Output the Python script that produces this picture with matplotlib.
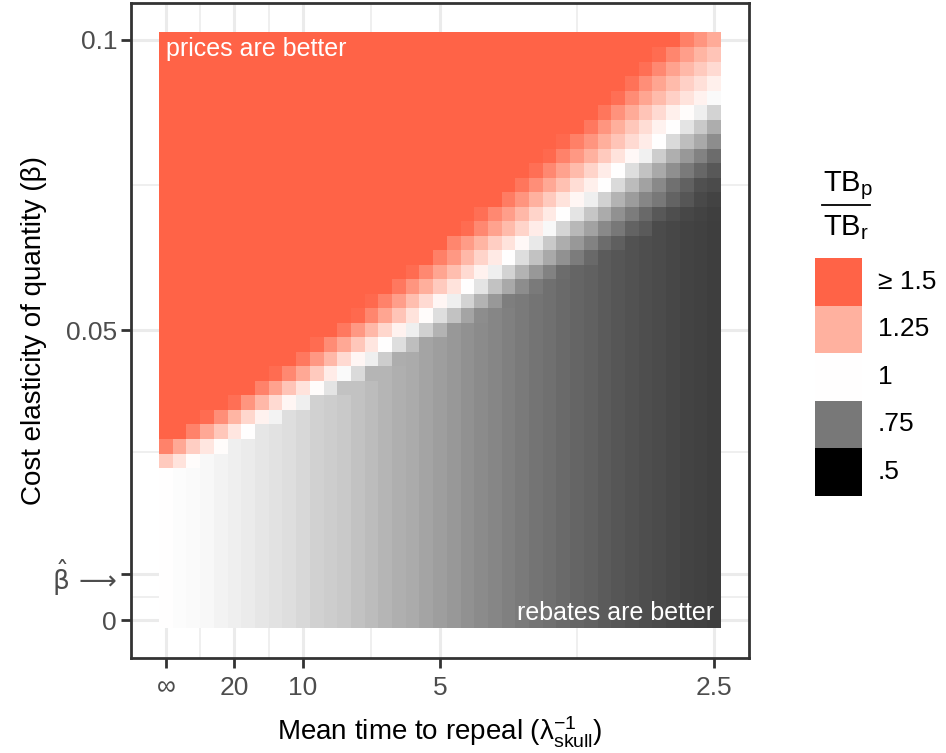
import numpy as np
import matplotlib
matplotlib.use("Agg")
import matplotlib.pyplot as plt
from matplotlib.colors import LinearSegmentedColormap, Normalize
from matplotlib.patches import Rectangle
from matplotlib.lines import Line2D

plt.rcParams["font.family"] = ["Liberation Sans", "DejaVu Sans"]
plt.rcParams["mathtext.default"] = "regular"

# grid of the heatmap: repeal hazard (x) and cost elasticity (y)
lam = np.round(np.arange(41) * 0.01, 2)
beta = np.round(np.arange(41) * 0.0025, 4)

x_ticks = [0, 0.05, 0.1, 0.2, 0.4]
x_labels = ["∞", "20", "10", "5", "2.5"]
x_minor = [0.025, 0.075, 0.15, 0.3]
y_ticks = [0, 0.008, 0.05, 0.1]
y_labels = ["0", r"$\hat{\beta}\,\longrightarrow$", "0.05", "0.1"]
y_minor = [0.004, 0.029, 0.075]

# TB_p / TB_r in the low-beta region, one value per column
base_ratio = [1.000, 0.996, 0.991, 0.985, 0.978, 0.972, 0.963, 0.954, 0.947, 0.938,
              0.928, 0.917, 0.908, 0.899, 0.888, 0.877, 0.866, 0.855, 0.844, 0.833,
              0.822, 0.811, 0.800, 0.789, 0.778, 0.767, 0.757, 0.746, 0.735, 0.725,
              0.714, 0.704, 0.693, 0.683, 0.674, 0.666, 0.658, 0.649, 0.643, 0.637,
              0.632]

# rows 11..40: cells left of band_start are >= 1.5, then the transition band,
# then the column value above
band_first_row = 11
band_start = [0, 0, 2, 3, 5, 7, 8, 10, 11, 13, 14, 15, 17, 18, 20,
              21, 22, 23, 25, 26, 27, 28, 29, 31, 32, 33, 34, 35, 36, 38]
band_values = [
    [1.17, 1.09, 1.01],
    [1.40, 1.28, 1.16, 1.08, 1.01],
    [1.40, 1.28, 1.18, 1.08, 1.00],
    [1.47, 1.36, 1.24, 1.13, 1.04, 0.98],
    [1.46, 1.34, 1.23, 1.12, 1.03, 0.97],
    [1.40, 1.30, 1.19, 1.09, 1.01, 0.95, 0.89],
    [1.47, 1.38, 1.28, 1.17, 1.06, 0.99, 0.93, 0.865],
    [1.43, 1.33, 1.23, 1.12, 1.03, 0.97, 0.91, 0.85],
    [1.47, 1.37, 1.28, 1.18, 1.08, 1.00, 0.94, 0.88],
    [1.43, 1.33, 1.23, 1.13, 1.04, 0.97, 0.915, 0.86, 0.81],
    [1.48, 1.39, 1.29, 1.19, 1.09, 1.01, 0.94, 0.89, 0.835, 0.79],
    [1.48, 1.40, 1.31, 1.21, 1.12, 1.03, 0.97, 0.92, 0.86, 0.81, 0.765],
    [1.43, 1.34, 1.26, 1.17, 1.09, 1.00, 0.95, 0.89, 0.84, 0.79, 0.755],
    [1.47, 1.38, 1.29, 1.21, 1.12, 1.04, 0.97, 0.92, 0.86, 0.81, 0.77, 0.73],
    [1.41, 1.33, 1.23, 1.14, 1.07, 1.00, 0.94, 0.89, 0.84, 0.80, 0.76, 0.72],
    [1.39, 1.32, 1.24, 1.16, 1.09, 1.02, 0.96, 0.90, 0.85, 0.81, 0.77, 0.73, 0.70, 0.675],
    [1.47, 1.38, 1.30, 1.22, 1.14, 1.06, 0.985, 0.925, 0.87, 0.83, 0.785, 0.75, 0.71, 0.69, 0.66],
    [1.46, 1.38, 1.31, 1.23, 1.14, 1.07, 1.00, 0.95, 0.895, 0.845, 0.80, 0.76, 0.72, 0.685,
     0.665, 0.65, 0.643, 0.634],
    [1.42, 1.34, 1.25, 1.17, 1.09, 1.03, 0.97, 0.915, 0.86, 0.82, 0.78, 0.75, 0.71, 0.68,
     0.655, 0.643],
    [1.44, 1.36, 1.28, 1.20, 1.11, 1.05, 1.00, 0.93, 0.875, 0.83, 0.785, 0.735, 0.705, 0.67, 0.66],
    [1.46, 1.38, 1.30, 1.22, 1.14, 1.06, 1.00, 0.94, 0.89, 0.84, 0.795, 0.755, 0.715, 0.685],
    [1.48, 1.40, 1.33, 1.25, 1.17, 1.09, 1.02, 0.975, 0.91, 0.855, 0.81, 0.77, 0.73],
    [1.48, 1.41, 1.34, 1.26, 1.19, 1.12, 1.06, 1.00, 0.93, 0.88, 0.84, 0.79],
    [1.43, 1.34, 1.26, 1.18, 1.11, 1.04, 1.00, 0.95, 0.90, 0.85],
    [1.44, 1.35, 1.27, 1.19, 1.12, 1.05, 1.01, 0.97, 0.92],
    [1.46, 1.37, 1.29, 1.22, 1.15, 1.09, 1.04, 0.99],
    [1.45, 1.36, 1.29, 1.22, 1.15, 1.10, 1.05],
    [1.46, 1.38, 1.30, 1.23, 1.17, 1.12],
    [1.47, 1.39, 1.31, 1.24, 1.19],
    [1.41, 1.34, 1.27],
]

legend_values = [1.5, 1.25, 1.0, 0.75, 0.5]
legend_labels = ["≥ 1.5", "1.25", "1", ".75", ".5"]

# build the cell table
ratio = np.tile(np.array(base_ratio), (len(beta), 1))
for k, (s, vals) in enumerate(zip(band_start, band_values)):
    r = band_first_row + k
    ratio[r, :s] = 1.5
    ratio[r, s:s + len(vals)] = vals

cmap = LinearSegmentedColormap.from_list(
    "tb", [(0, "black"), (0.25, "#777777"), (0.5, "white"),
           (0.75, "#FFB2A0"), (1, "#FF6347")])
norm = Normalize(vmin=0.5, vmax=1.5)

W, H = 946, 753
fx = lambda px: px / W
fy = lambda py: 1 - py / H

fig = plt.figure(figsize=(W / 100, H / 100), dpi=100)
ax = fig.add_axes([fx(131), fy(657.5), fx(749) - fx(131), fy(2.7) - fy(657.5)])

ax.pcolormesh(lam, beta, ratio, shading="nearest", cmap=cmap, norm=norm,
              linewidth=0, antialiased=False, zorder=2)

ax.set_xlim(-0.0255, 0.4255)
ax.set_ylim(-0.006375, 0.106375)
ax.set_xticks(x_ticks, x_labels)
ax.set_xticks(x_minor, minor=True)
ax.set_yticks(y_ticks, y_labels)
ax.set_yticks(y_minor, minor=True)

ax.set_axisbelow(True)
ax.grid(which="major", color="#EBEBEB", linewidth=2.2, zorder=0)
ax.grid(which="minor", color="#EBEBEB", linewidth=1.1, zorder=0)
for sp in ax.spines.values():
    sp.set_color("#333333")
    sp.set_linewidth(2.0)
    sp.set_zorder(5)

ax.tick_params(which="major", length=7, width=2, color="#333333",
               labelcolor="#4D4D4D", labelsize=19)
ax.tick_params(axis="x", which="major", pad=6)
ax.tick_params(axis="y", which="major", pad=3)
ax.tick_params(which="minor", length=0)
bhat = ax.get_yticklabels()[1]
bhat.set_fontfamily(["DejaVu Sans"])
bhat.set_fontsize(19)

ax.set_xlabel(r"Mean time to repeal ($\lambda_{skull}^{-1}$)", fontsize=20, labelpad=11)
ax.set_ylabel("Cost elasticity of quantity (β)", fontsize=20, labelpad=4)

ax.text(0.0, 0.1004, "prices are better", color="white", fontsize=18.0,
        ha="left", va="top", zorder=4)
ax.text(0.4, 0.0, "rebates are better", color="white", fontsize=18.0,
        ha="right", va="baseline", zorder=4)

# legend: fraction title and square keys
fig.text(fx(823), fy(186), "TB$_p$", fontsize=21, ha="left", va="center")
fig.add_artist(Line2D([fx(822), fx(870)], [fy(205), fy(205)],
                      transform=fig.transFigure, color="black", linewidth=1.3))
fig.text(fx(823), fy(228), "TB$_r$", fontsize=21, ha="left", va="center")

key_top, key_h = 258, 47.5
for i, (v, lab) in enumerate(zip(legend_values, legend_labels)):
    top = key_top + i * key_h
    fig.add_artist(Rectangle((fx(815), fy(top + key_h)), fx(862) - fx(815),
                             key_h / H, transform=fig.transFigure,
                             facecolor=cmap(norm(v)), edgecolor="none"))
    fig.text(fx(878), fy(top + key_h / 2), lab, fontsize=19, ha="left", va="center")

fig.savefig("out.png", dpi=100)
